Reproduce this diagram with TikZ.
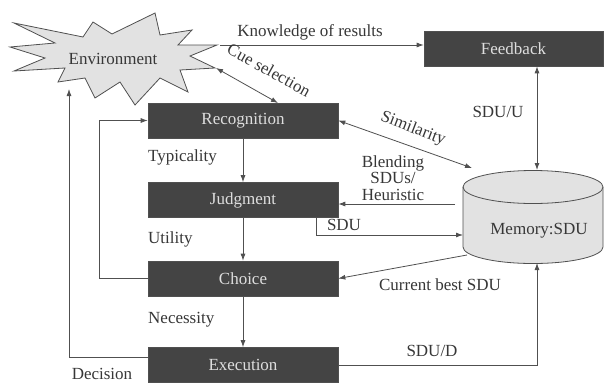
\documentclass[tikz,border=0pt]{standalone}
\usepackage{fontspec}
\setmainfont{Liberation Serif}
\usetikzlibrary{arrows.meta}
\definecolor{diagcolor0001}{RGB}{68,68,68}
\definecolor{diagcolor0002}{RGB}{222,222,222}
\definecolor{diagcolor0003}{RGB}{226,226,226}
\definecolor{diagcolor0004}{RGB}{80,80,80}
\definecolor{diagcolor0005}{RGB}{55,55,55}
\begin{document}
\begin{tikzpicture}[yscale=-1
,font=\rmfamily\fontsize{17}{16.5}\selectfont
,pstyle0/.style={draw=diagcolor0004,fill=diagcolor0001,text=diagcolor0002,minimum width=190pt,minimum height=35pt,inner sep=0,line width=0.6pt}
,pstyle1/.style={color=diagcolor0004,fill=diagcolor0003,line width=0.8pt}
,pstyle2/.style={color=diagcolor0004,line width=0.8pt,-{Latex[length=7pt,width=5pt]}}
,pstyle3/.style={color=diagcolor0004,line width=0.8pt,{Latex[length=7pt,width=5pt]}-{Latex[length=7pt,width=5pt]}}
,pstyle4/.style={text=diagcolor0005,inner sep=0}
]
\useasboundingbox (0pt,0pt) rectangle (604pt,383pt);
% environment star
\draw[pstyle1] (10pt,47pt) -- (55pt,43pt) -- (14pt,23pt) -- (83pt,37pt) -- (93pt,22pt) -- (112pt,34pt) -- (155pt,13pt) -- (160pt,35pt) -- (192pt,30pt) -- (178pt,45pt) -- (217pt,45pt) -- (190pt,56pt) -- (215pt,68pt) -- (180pt,70pt) -- (188pt,92pt) -- (160pt,78pt) -- (135pt,105pt) -- (120pt,82pt) -- (95pt,98pt) -- (85pt,78pt) -- (58pt,82pt) -- (65pt,68pt) -- (14pt,71pt) -- (45pt,58pt) -- cycle;
\node[pstyle4] (env) at (113pt,59pt) {Environment};
\coordinate (envR) at (220pt,45pt);
\coordinate (envC) at (216pt,68pt);
\coordinate (envB) at (69pt,89pt);
% memory cylinder
\draw[pstyle1] (463pt,187pt) -- (463pt,247pt) arc (180:0:70pt and 16.5pt) -- (603pt,187pt) arc (0:-180:70pt and 16.5pt) -- cycle;
\draw[pstyle1,fill=none] (463pt,187pt) arc (180:0:70pt and 16.5pt);
\node[pstyle4] (mem) at (539pt,231pt) {Memory:SDU};
\coordinate (memT) at (537pt,170pt);
\coordinate (memS) at (472pt,168pt);
\coordinate (memB) at (455pt,204pt);
\coordinate (memL) at (463pt,235pt);
\coordinate (memC) at (467pt,255pt);
\coordinate (memD) at (537pt,263pt);
% boxes
\node[pstyle0,minimum width=179pt] (feed) at (513.5pt,48.5pt) {Feedback};
\node[pstyle0] (rec) at (243pt,120.5pt) {Recognition};
\node[pstyle0] (judg) at (243pt,200pt) {Judgment};
\node[pstyle0] (choice) at (243pt,278.5pt) {Choice};
\node[pstyle0] (exec) at (243pt,365pt) {Execution};
\coordinate (recC) at (278pt,103pt);
\coordinate (sduA) at (316pt,217.5pt);
\coordinate (decA) at (148pt,357pt);
% connectors
\draw[pstyle2] (envR) -- (envR -| feed.west);
\draw[pstyle3] (envC) -- (recC);
\draw[pstyle3] (memT |- feed.south) -- (memT);
\draw[pstyle3] (rec.east) -- (memS);
\draw[pstyle2] (memB) -- (memB -| judg.east);
\draw[pstyle2] (sduA) |- (memL);
\draw[pstyle2] (memC) -- (choice.east);
\draw[pstyle2] (exec.east) -| (memD);
\draw[pstyle2] (rec) -- (judg);
\draw[pstyle2] (judg) -- (choice);
\draw[pstyle2] (choice) -- (exec);
\draw[pstyle2] (choice.west) -- ++(-48pt,0pt) |- (rec.west);
\draw[pstyle2] (decA) -| (envB);
% labels
\node[pstyle4] (lknow) at (310pt,32pt) {Knowledge of results};
\node[pstyle4,rotate=-29] (lcue) at (269pt,70pt) {Cue selection};
\node[pstyle4] (lsduu) at (498pt,112pt) {SDU/U};
\node[pstyle4,rotate=-21] (lsim) at (413pt,129pt) {Similarity};
\node[pstyle4,align=center] (lblend) at (393pt,178pt) {Blending\\SDUs/\\Heuristic};
\node[pstyle4] (lsdu) at (344pt,225pt) {SDU};
\node[pstyle4] (lbest) at (440pt,285pt) {Current best SDU};
\node[pstyle4] (lsdud) at (432pt,351pt) {SDU/D};
\node[pstyle4,anchor=west] (ltyp) at (148pt,157pt) {Typicality};
\node[pstyle4,anchor=west] (lutil) at (148pt,239pt) {Utility};
\node[pstyle4,anchor=west] (lnec) at (148pt,320pt) {Necessity};
\node[pstyle4] (ldec) at (102pt,374pt) {Decision};
\end{tikzpicture}
\end{document}
